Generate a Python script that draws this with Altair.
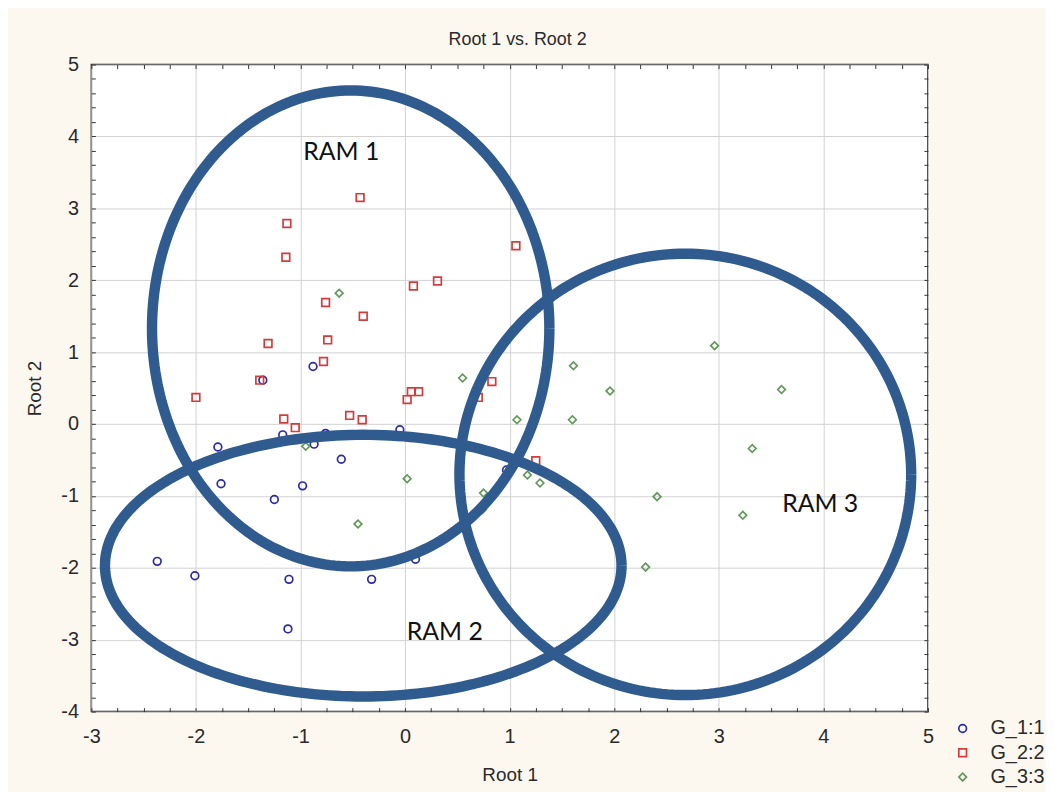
import numpy as np
import pandas as pd
import altair as alt

FONT = "Liberation Sans, Arial, sans-serif"

# ---- groups (legend) ----
group_names = ["G_1:1", "G_2:2", "G_3:3"]
group_colors = ["#2a2aa6", "#d23c3c", "#62995a"]
group_shapes = ["circle", "square", "diamond"]

# ---- G_1:1 (blue circles) ----
g1_x = [-2.37, -2.01, -1.79, -1.76, -1.25, -0.98, -0.61, -0.88, -1.36, -1.17,
        -0.87, -0.76, -0.05, -1.11, -0.32, -1.12, 0.10, 0.97]
g1_y = [-1.91, -2.11, -0.32, -0.83, -1.05, -0.86, -0.49, 0.80, 0.61, -0.15,
        -0.28, -0.13, -0.08, -2.16, -2.16, -2.85, -1.88, -0.64]

# ---- G_2:2 (red squares) ----
g2_x = [-0.43, -1.13, -1.14, -0.76, 0.08, 0.31, 1.06, -0.40, -1.31, -0.74,
        -0.78, -1.39, -2.00, -1.16, -1.05, -0.53, -0.41, 0.02, 0.06, 0.13,
        0.83, 0.70, 1.25]
g2_y = [3.15, 2.79, 2.32, 1.69, 1.92, 1.99, 2.48, 1.50, 1.12, 1.17,
        0.87, 0.61, 0.37, 0.07, -0.05, 0.12, 0.06, 0.34, 0.45, 0.45,
        0.59, 0.37, -0.51]

# ---- G_3:3 (green diamonds) ----
g3_x = [-0.63, -0.95, 0.02, -0.45, 0.55, 1.61, 1.96, 1.07, 1.60, 2.96,
        1.17, 1.29, 0.75, 2.41, 0.74, 3.60, 3.32, 3.23, 2.30]
g3_y = [1.82, -0.31, -0.76, -1.39, 0.64, 0.81, 0.46, 0.06, 0.06, 1.09,
        -0.71, -0.82, -0.96, -1.01, -1.19, 0.48, -0.34, -1.27, -1.99]

# ---- RAM ellipses (centre, radii in data units) and their labels ----
ram_names = ["RAM 1", "RAM 2", "RAM 3"]
ram_cx = [-0.52, -0.40, 2.68]
ram_cy = [1.33, -1.97, -0.70]
ram_rx = [1.90, 2.47, 2.16]
ram_ry = [3.31, 1.82, 3.07]
ram_label_x = [-0.61, 0.38, 3.97]
ram_label_y = [3.78, -2.90, -1.11]

# ---- axis ticks ----
x_ticks = [round(-3 + 0.25 * i, 2) for i in range(33)]
y_ticks = [round(-4 + 0.2 * i, 2) for i in range(46)]

rows = []
for name, xs, ys in zip(group_names, [g1_x, g2_x, g3_x], [g1_y, g2_y, g3_y]):
    for xv, yv in zip(xs, ys):
        rows.append({"root1": xv, "root2": yv, "group": name})
points_df = pd.DataFrame(rows)

theta = np.linspace(0, 2 * np.pi, 241)
ell_rows = []
for name, cx, cy, rx, ry in zip(ram_names, ram_cx, ram_cy, ram_rx, ram_ry):
    for i, t in enumerate(theta):
        ell_rows.append({"ram": name, "i": i,
                         "root1": cx + rx * np.cos(t),
                         "root2": cy + ry * np.sin(t)})
ell_df = pd.DataFrame(ell_rows)

lab_df = pd.DataFrame({"root1": ram_label_x, "root2": ram_label_y, "name": ram_names})

xscale = alt.Scale(domain=[-3, 5], nice=False, zero=False)
yscale = alt.Scale(domain=[-4, 5], nice=False, zero=False)

grid_op = {"condition": {"test": "datum.value % 1 !== 0", "value": 0}, "value": 1}
lab_expr = "datum.value % 1 === 0 ? toString(datum.value) : ''"

x_main = alt.Axis(orient="bottom", values=x_ticks, offset=-4, tickSize=4, domain=False,
                  grid=True, gridColor="#d2d2d2", gridOpacity=grid_op,
                  labelExpr=lab_expr, labelFont=FONT, labelFontSize=20, labelColor="#2a2a2a",
                  labelPadding=15, labelOverlap=False, labelFlush=False,
                  tickColor="#333333", tickWidth=1,
                  title="Root 1", titleFont=FONT, titleFontSize=19, titleFontWeight="normal",
                  titleColor="#2a2a2a", titleY=67, titleBaseline="middle")
y_main = alt.Axis(orient="left", values=y_ticks, offset=-4, tickSize=4, domain=False,
                  grid=True, gridColor="#d2d2d2", gridOpacity=grid_op,
                  labelExpr=lab_expr, labelFont=FONT, labelFontSize=20, labelColor="#2a2a2a",
                  labelPadding=13, labelOverlap=False, labelFlush=False,
                  tickColor="#333333", tickWidth=1,
                  title="Root 2", titleFont=FONT, titleFontSize=19, titleFontWeight="normal",
                  titleColor="#2a2a2a", titleX=-61, titleY=326, titleAngle=-90,
                  titleBaseline="middle")
x_top = alt.Axis(orient="top", values=x_ticks, offset=-4, tickSize=4, domain=False,
                 grid=False, labels=False, title=None, tickColor="#333333")
y_right = alt.Axis(orient="right", values=y_ticks, offset=-4, tickSize=4, domain=False,
                   grid=False, labels=False, title=None, tickColor="#333333")

legend = alt.Legend(orient="none", legendX=868, legendY=659, title=None,
                    labelFont=FONT, labelFontSize=20, labelColor="#2a2a2a",
                    symbolSize=60, symbolStrokeWidth=1.7, labelOffset=18,
                    rowPadding=4.5, padding=0)

points = alt.Chart(points_df).mark_point(filled=False, strokeWidth=1.7, size=60, opacity=1).encode(
    x=alt.X("root1:Q", scale=xscale, axis=x_main),
    y=alt.Y("root2:Q", scale=yscale, axis=y_main),
    color=alt.Color("group:N", scale=alt.Scale(domain=group_names, range=group_colors), legend=legend),
    shape=alt.Shape("group:N", scale=alt.Scale(domain=group_names, range=group_shapes), legend=legend),
)

ellipses = alt.Chart(ell_df).mark_line(strokeWidth=10.5, color="#2f5b8f").encode(
    x=alt.X("root1:Q", scale=xscale, axis=x_top),
    y=alt.Y("root2:Q", scale=yscale, axis=y_right),
    detail="ram:N",
    order="i:Q",
)

labels = alt.Chart(lab_df).mark_text(font="Lato", fontSize=25, color="#111111").encode(
    x=alt.X("root1:Q", scale=xscale, axis=None),
    y=alt.Y("root2:Q", scale=yscale, axis=None),
    text="name:N",
)

chart = alt.layer(points, ellipses, labels).resolve_axis(
    x="independent", y="independent"
).properties(
    width=843,
    height=652,
    title=alt.TitleParams("Root 1 vs. Root 2", font=FONT, fontSize=18, fontWeight="normal",
                          color="#2a2a2a", anchor="middle", offset=15, dx=8, dy=27,
                          baseline="bottom", frame="group"),
    background="#fcf8ef",
    padding={"left": 84, "top": 54, "right": 119, "bottom": 78},
    autosize=alt.AutoSizeParams(type="none"),
).configure_view(fill="white", stroke="#222222", strokeWidth=1.5)

chart.save("out.html", embed_options={"renderer": "svg", "actions": False})
